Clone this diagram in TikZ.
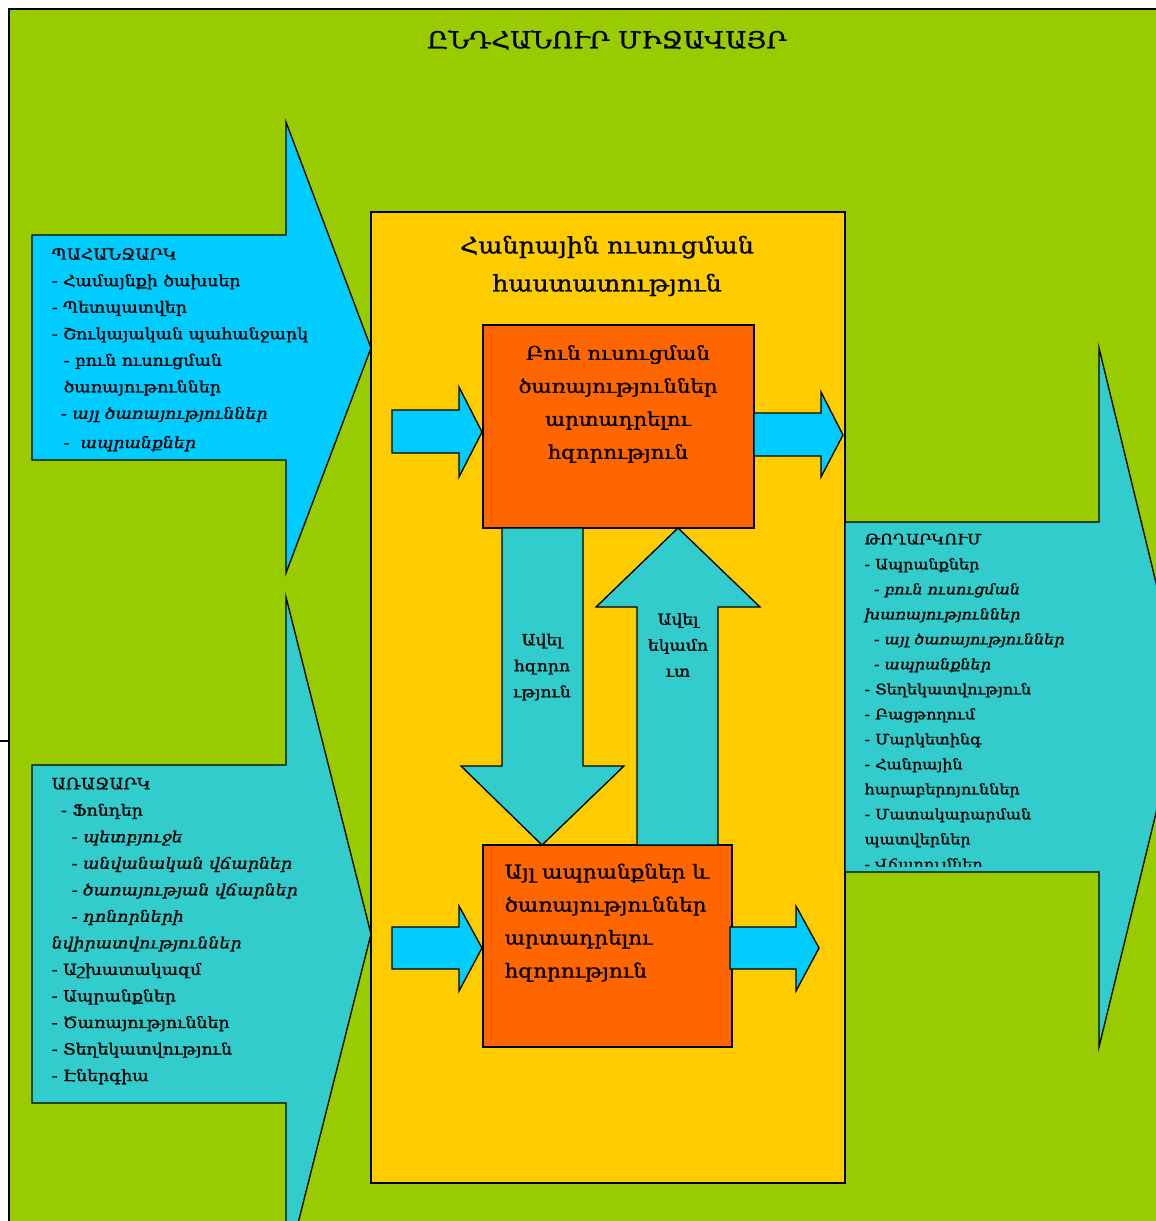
\documentclass[tikz,border=0pt]{standalone}
\usepackage{fontspec}
\setmainfont[FakeStretch=1.12,FakeBold=1]{DejaVu Serif}
\usepackage{tikz}

\definecolor{envgreen}{RGB}{153,204,0}
\definecolor{inflowblue}{RGB}{0,204,255}
\definecolor{flowteal}{RGB}{51,204,204}
\definecolor{schoolyellow}{RGB}{255,204,0}
\definecolor{capacityorange}{RGB}{255,102,0}

\begin{document}
\begin{tikzpicture}[x=0.75pt,y=0.75pt,yscale=-1,xscale=1,line width=1pt]
\clip (0,0) rectangle (1156,1221);

%Shape: Rectangle [environment]
\draw  [fill=envgreen] (9,9) -- (1170,9) -- (1170,1235) -- (9,1235) -- cycle ;
%Straight Lines
\draw    (0,741) -- (9,741) ;

%Shape: Right Arrow [demand]
\draw  [fill=inflowblue] (32,235) -- (286,235) -- (286,122) -- (371,348) -- (286,573) -- (286,460) -- (32,460) -- cycle ;
%Shape: Right Arrow [supply]
\draw  [fill=flowteal] (32,765) -- (286,765) -- (286,597) -- (371,934) -- (286,1271) -- (286,1103) -- (32,1103) -- cycle ;

%Shape: Rectangle [school]
\draw  [fill=schoolyellow] (371,212) -- (845,212) -- (845,1183) -- (371,1183) -- cycle ;

%Shape: Rectangle [core capacity]
\draw  [fill=capacityorange] (483,325) -- (754,325) -- (754,528) -- (483,528) -- cycle ;
%Shape: Rectangle [other capacity]
\draw  [fill=capacityorange] (483,845) -- (732,845) -- (732,1047) -- (483,1047) -- cycle ;

%Shape: Right Arrow [small]
\draw  [fill=inflowblue] (392,410) -- (459,410) -- (459,387) -- (482,432) -- (459,477) -- (459,453) -- (392,453) -- cycle ;
%Shape: Right Arrow [small]
\draw  [fill=inflowblue] (754,413) -- (821,413) -- (821,392) -- (843,435) -- (821,477) -- (821,456) -- (754,456) -- cycle ;
%Shape: Right Arrow [small]
\draw  [fill=inflowblue] (392,927) -- (459,927) -- (459,906) -- (482,948) -- (459,991) -- (459,969) -- (392,969) -- cycle ;
%Shape: Right Arrow [small]
\draw  [fill=inflowblue] (730,927) -- (796,927) -- (796,906) -- (819,948) -- (796,991) -- (796,969) -- (730,969) -- cycle ;

%Shape: Down Arrow [more capacity]
\draw  [fill=flowteal] (502,528) -- (583,528) -- (583,766) -- (624,766) -- (542,845) -- (461,766) -- (502,766) -- cycle ;
%Shape: Up Arrow [more income]
\draw  [fill=flowteal] (637,845) -- (718,845) -- (718,607) -- (760,607) -- (678,528) -- (596,607) -- (637,607) -- cycle ;

%Shape: Right Arrow [output]
\draw  [fill=flowteal] (845,522) -- (1099,522) -- (1099,348) -- (1184,698) -- (1099,1047) -- (1099,872) -- (845,872) -- cycle ;

% Text Node
\draw (607,40) node [font=\fontsize{17.5}{20}\selectfont] (title) {ԸՆԴՀԱՆՈՒՐ ՄԻՋԱՎԱՅՐ};
% Text Node
\draw (607,266) node [font=\fontsize{17}{28.5}\selectfont, align=center] (school) {Հանրային ուսուցման\\հաստատություն};
% Text Node
\draw (618,404) node [font=\fontsize{14.2}{24.75}\selectfont, align=center] (core) {Բուն ուսուցման\\ծառայություններ\\արտադրելու\\հզորություն};
% Text Node
\draw (503,862) node [anchor=north west][inner sep=0.75pt] [font=\fontsize{14.4}{24.75}\selectfont, align=left] (other) {Այլ ապրանքներ և\\ծառայություններ\\արտադրելու\\հզորություն};
% Text Node
\draw (542,667) node [font=\fontsize{11.5}{19.5}\selectfont, align=center] (capacity) {Ավել\\հզորո\\ւթյուն};
% Text Node
\draw (678,645) node [font=\fontsize{11.5}{19.5}\selectfont, align=center] (income) {Ավել\\եկամո\\ւտ};

% Text Node
\draw (50,246) node [anchor=north west][inner sep=0.75pt] [font=\fontsize{11.6}{19.9}\selectfont, align=left] (demand) {ՊԱՀԱՆՋԱՐԿ\\- Համայնքի ծախսեր\\- Պետպատվեր\\- Շուկայական պահանջարկ\\\hspace*{9pt}- բուն ուսուցման\\\hspace*{9pt}ծառայութուններ\\\hspace*{7pt}\textit{- այլ ծառայություններ}\\[2pt]\hspace*{9pt}\textit{-~~ապրանքներ}};
% Text Node
\draw (50,776) node [anchor=north west][inner sep=0.75pt] [font=\fontsize{11.6}{19.9}\selectfont, align=left] (supply) {ԱՌԱՋԱՐԿ\\\hspace*{7pt}- Ֆոնդեր\\\hspace*{15pt}\textit{- պետբյուջե}\\\hspace*{15pt}\textit{- անվանական վճարներ}\\\hspace*{15pt}\textit{- ծառայության վճարներ}\\\hspace*{15pt}\textit{- դոնորների}\\\textit{նվիրատվություններ}\\- Աշխատակազմ\\- Ապրանքներ\\- Ծառայություններ\\- Տեղեկատվություն\\- Էներգիա};

\begin{scope}
\clip (845,522) rectangle (1099,866);
% Text Node
\draw (863,532) node [anchor=north west][inner sep=0.75pt] [font=\fontsize{10.7}{18.75}\selectfont, align=left] (output) {ԹՈՂԱՐԿՈՒՄ\\- Ապրանքներ\\\hspace*{7pt}\textit{- բուն ուսուցման}\\\textit{խառայություններ}\\\hspace*{7pt}\textit{- այլ ծառայություններ}\\\hspace*{7pt}\textit{- ապրանքներ}\\- Տեղեկատվություն\\- Բացթողում\\- Մարկետինգ\\- Հանրային\\հարաբերոյուններ\\- Մատակարարման\\պատվերներ\\- Վճարումներ};
\end{scope}

\end{tikzpicture}
\end{document}
